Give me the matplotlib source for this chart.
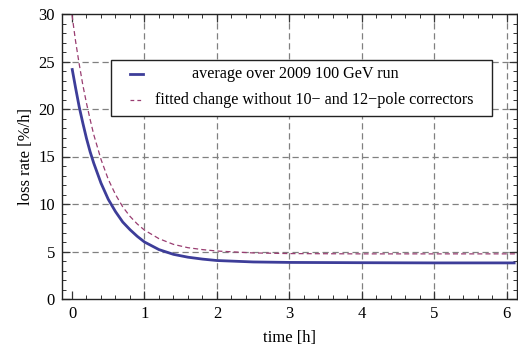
import matplotlib
matplotlib.use("Agg")
import matplotlib.pyplot as plt
from matplotlib.patches import Rectangle
from matplotlib.ticker import MultipleLocator

# data
time_avg = [0.0, 0.05, 0.1, 0.15, 0.2, 0.25, 0.3, 0.4, 0.5, 0.6, 0.7, 0.8, 0.9, 1.0,
            1.2, 1.4, 1.6, 1.8, 2.0, 2.5, 3.0, 4.0, 5.0, 6.12]
loss_avg = [24.3, 22.2, 20.2, 18.5, 16.9, 15.5, 14.3, 12.2, 10.5, 9.2, 8.1, 7.3, 6.6, 6.0,
            5.2, 4.7, 4.4, 4.2, 4.05, 3.9, 3.85, 3.82, 3.8, 3.8]

time_fit = [0.0, 0.05, 0.1, 0.15, 0.2, 0.25, 0.3, 0.4, 0.5, 0.6, 0.7, 0.8, 0.9, 1.0,
            1.2, 1.4, 1.6, 1.8, 2.0, 2.5, 3.0, 4.0, 5.0, 6.12]
loss_fit = [29.9, 27.1, 24.7, 22.5, 20.6, 18.9, 17.3, 14.7, 12.6, 11.0, 9.7, 8.7, 7.9, 7.25,
            6.35, 5.75, 5.4, 5.2, 5.05, 4.85, 4.78, 4.75, 4.75, 4.75]

labels = ["average over 2009 100 GeV run",
          "fitted change without 10\u2212 and 12\u2212pole correctors"]

blue = (0.24, 0.24, 0.6)
purple = (0.6, 0.24, 0.442)

plt.rcParams['font.family'] = ['Liberation Serif', 'DejaVu Serif']

W, H = 518, 354
fig = plt.figure(figsize=(W / 100, H / 100), dpi=100)
# axes box in pixels: left 62, right 517, top 14, bottom 299
ax = fig.add_axes([62 / W, 1 - 299 / H, (517 - 62) / W, (299 - 14) / H])

ax.plot(time_avg, loss_avg, color=blue, lw=2.0, solid_capstyle='butt')
ax.plot(time_fit, loss_fit, color=purple, lw=0.9, dashes=(4, 2.5))

ax.set_xlim(-0.138, 6.14)
ax.set_ylim(0, 30)

ax.xaxis.set_major_locator(MultipleLocator(1))
ax.xaxis.set_minor_locator(MultipleLocator(0.2))
ax.yaxis.set_major_locator(MultipleLocator(5))
ax.yaxis.set_minor_locator(MultipleLocator(1))
ax.tick_params(which='both', direction='in', top=True, right=True,
               color='#333333', labelsize=12)
ax.tick_params(which='major', length=6, width=0.9, pad=5)
ax.tick_params(which='minor', length=3, width=0.7)

for gx in range(1, 7):
    ax.axvline(gx, color='#808080', lw=0.9, dashes=(5, 3), zorder=0)
for gy in range(5, 30, 5):
    ax.axhline(gy, color='#808080', lw=0.9, dashes=(5, 3), zorder=0)

for s in ax.spines.values():
    s.set_linewidth(1.0)
    s.set_color('#222222')

ax.set_xlabel('time [h]', fontsize=12, labelpad=6)
ax.set_ylabel('loss rate [%/h]', fontsize=12, labelpad=3)

# legend box (pixel layout)
def px(x, y):
    return x / W, 1 - y / H

x0, y0 = px(111, 116)
fig.patches.append(Rectangle((x0, y0), (492 - 111) / W, (116 - 60) / H,
                             transform=fig.transFigure, facecolor='white',
                             edgecolor='#222222', lw=1.0, zorder=5))
lx1, ly1 = px(130, 74)
lx2, _ = px(143, 74)
fig.add_artist(plt.Line2D([lx1, lx2], [ly1, ly1], transform=fig.transFigure,
                          color=blue, lw=2.0, zorder=6))
_, ly2 = px(130, 100)
fig.add_artist(plt.Line2D([lx1, lx2], [ly2, ly2], transform=fig.transFigure,
                          color=purple, lw=0.9, dashes=(3, 2.5), zorder=6))
tx, ty = px(192, 74)
fig.text(tx, ty, labels[0], fontsize=11.6, va='center', ha='left', zorder=7)
tx, ty = px(155, 100)
fig.text(tx, ty, labels[1], fontsize=11.6, va='center', ha='left', zorder=7)

fig.savefig('out.png', dpi=100)
